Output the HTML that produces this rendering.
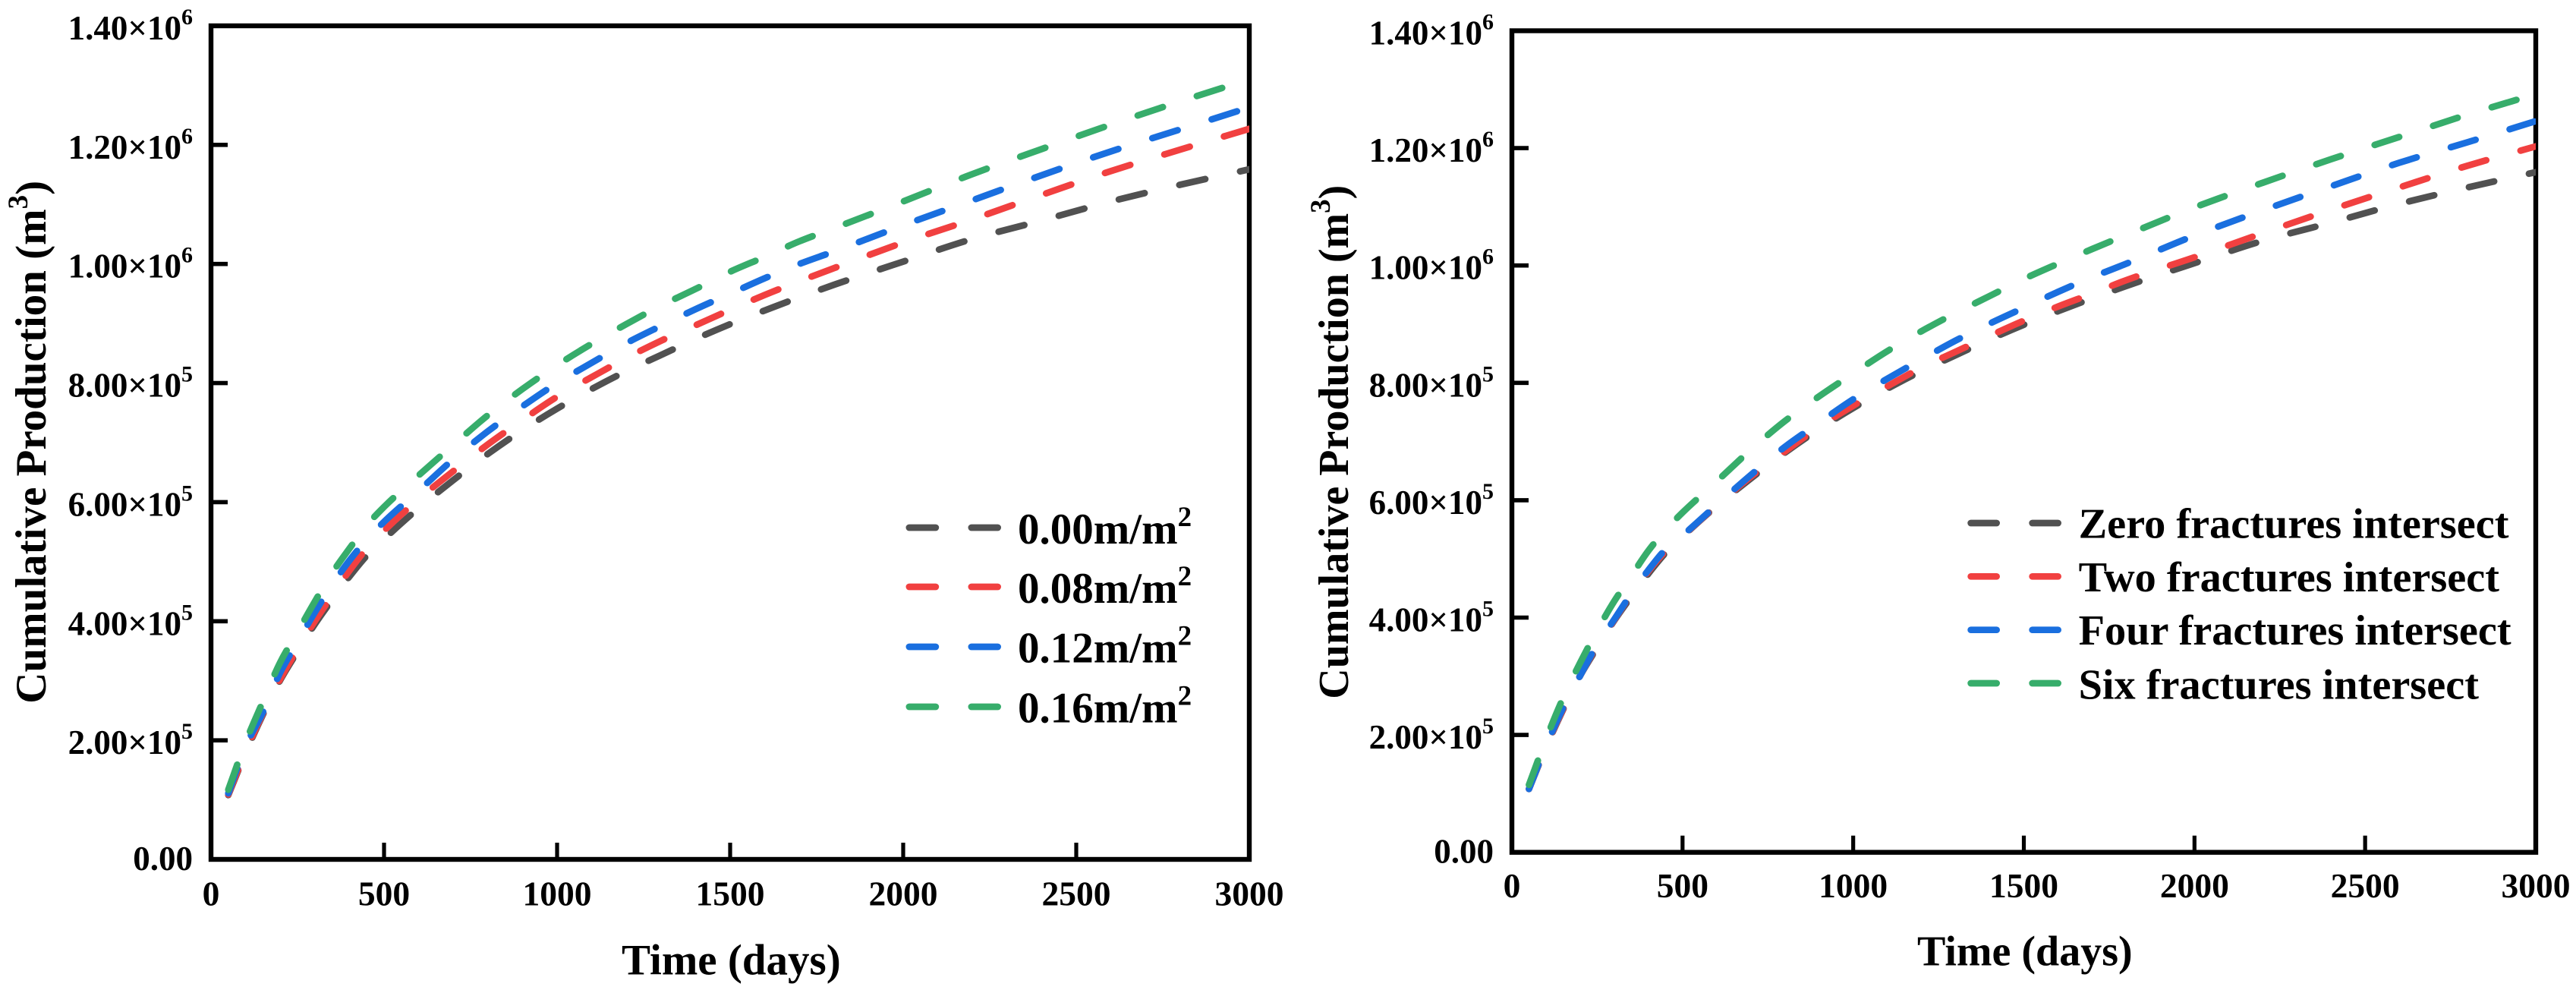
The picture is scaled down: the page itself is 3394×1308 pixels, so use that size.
<!DOCTYPE html>
<html lang="en">
<head>
<meta charset="utf-8">
<title>Cumulative Production Charts</title>
<style>
html,body{margin:0;padding:0;background:#fff;}
svg{display:block;}
text{font-family:"Liberation Serif",serif;font-weight:bold;fill:#000;}
</style>
</head>
<body>
<svg id="figure" xmlns="http://www.w3.org/2000/svg" width="3394" height="1308" viewBox="0 0 3394 1308"></svg>
<script>
// ---- Chart data (cumulative production in thousand m3) ----
const times = [50,100,150,200,250,300,350,400,450,500,600,700,800,900,1000,1100,1200,1300,1400,1500,1600,1700,1800,2000,2200,2400,2600,2800,3000];

const densityZero = [108,179,243,301,349,395,436,475,510,538,590,637,681,721,757,790,820,847,874,899,922,944,965,1004,1042,1073,1105,1133,1159];
const densityLow  = [109,181,245,303,353,400,443,485,522,552,605,652,697,738,777,810,842,871,897,923,948,971,993,1036,1075,1116,1156,1192,1227];
const densityMid  = [111,190,247,314,365,415,461,502,537,567,619,672,719,761,800,834,867,896,924,950,976,1000,1021,1065,1107,1149,1189,1226,1263];
const densityHigh = [117,197,265,331,382,433,481,522,561,592,645,696,746,790,830,866,899,930,958,987,1012,1038,1060,1105,1151,1193,1234,1273,1310];

const fracturesZero = [108,179,243,301,349,395,436,475,510,538,590,637,681,721,757,790,820,847,874,899,922,944,965,1004,1042,1073,1105,1133,1159];
const fracturesTwo  = [108,180,244,301,352,396,440,479,513,539,591,640,683,725,761,794,826,853,880,906,930,952,975,1014,1055,1095,1133,1170,1203];
const fracturesFour = [108,181,246,301,354,397,441,481,516,540,592,643,691,732,772,807,840,872,901,928,955,980,1003,1051,1094,1135,1175,1210,1246];
const fracturesSix  = [115,193,263,323,378,428,471,514,549,579,632,686,735,777,816,854,888,919,948,977,1003,1028,1052,1099,1141,1181,1219,1257,1292];

const xTickValues = [0,500,1000,1500,2000,2500,3000];
const yTickValues = [0,200000,400000,600000,800000,1000000,1200000,1400000];
const yTickMantissas = ['0.00','2.00×10','4.00×10','6.00×10','8.00×10','1.00×10','1.20×10','1.40×10'];
const yTickExponents = ['','5','5','5','5','6','6','6'];

const seriesColors = ['#515151','#F14040','#1A6FDF','#37AD6B'];
const densityLabels = ['0.00m/m','0.08m/m','0.12m/m','0.16m/m'];
const fractureLabels = ['Zero fractures intersect','Two fractures intersect','Four fractures intersect','Six fractures intersect'];

const SVGNS = 'http://www.w3.org/2000/svg';
const figure = document.getElementById('figure');

function make(parent, tag, attrs, txt) {
  const n = document.createElementNS(SVGNS, tag);
  for (const k in attrs) n.setAttribute(k, attrs[k]);
  if (txt !== undefined) n.textContent = txt;
  parent.appendChild(n);
  return n;
}

// Monotone cubic path through screen points
function curvePath(pts) {
  const n = pts.length, d = [], m = [];
  for (let i = 0; i < n - 1; i++) d.push((pts[i+1][1]-pts[i][1])/(pts[i+1][0]-pts[i][0]));
  m[0] = d[0];
  m[n-1] = d[n-2];
  for (let i = 1; i < n - 1; i++) {
    const h0 = pts[i][0]-pts[i-1][0], h1 = pts[i+1][0]-pts[i][0];
    const w1 = 2*h1+h0, w2 = h1+2*h0;
    m[i] = (w1+w2)/(w1/d[i-1]+w2/d[i]);
  }
  let s = 'M' + pts[0][0].toFixed(2) + ' ' + pts[0][1].toFixed(2);
  for (let i = 0; i < n - 1; i++) {
    const h = (pts[i+1][0]-pts[i][0])/3;
    s += 'C' + (pts[i][0]+h).toFixed(2) + ' ' + (pts[i][1]+m[i]*h).toFixed(2) + ' ' +
         (pts[i+1][0]-h).toFixed(2) + ' ' + (pts[i+1][1]-m[i+1]*h).toFixed(2) + ' ' +
         pts[i+1][0].toFixed(2) + ' ' + pts[i+1][1].toFixed(2);
  }
  return s;
}

function drawChart(c) {
  const xScale = t => c.left + t / 3000 * (c.right - c.left);
  const yScale = v => c.bottom - v / 1400000 * (c.bottom - c.top);

  const g = make(figure, 'g', {});
  
  

  const clipId = c.name + '-clip';
  const defs = make(g, 'defs', {});
  const clip = make(defs, 'clipPath', {id: clipId});
  make(clip, 'rect', {x: c.left, y: c.top, width: c.right - c.left, height: c.bottom - c.top});

  // frame
  const frame = make(g, 'rect', {x: c.left, y: c.top, width: c.right - c.left, height: c.bottom - c.top, fill: 'none', stroke: '#000', 'stroke-width': 6.4});
  
  

  // x ticks and labels
  xTickValues.forEach(function (t) {
    const tick = make(g, 'line', {x1: xScale(t), x2: xScale(t), y1: c.bottom, y2: c.bottom - 22, stroke: '#000', 'stroke-width': 5.2});
    
    
    const lab = make(g, 'text', {x: xScale(t), y: c.xLabelY, 'font-size': 45.5, 'text-anchor': 'middle'}, String(t));
    
    
  });

  // y ticks and labels
  yTickValues.forEach(function (v, i) {
    if (i > 0 && i < yTickValues.length - 1) {
      const tick = make(g, 'line', {x1: c.left, x2: c.left + 22, y1: yScale(v), y2: yScale(v), stroke: '#000', 'stroke-width': 5.6});
      
      
    }
    const base = yScale(v) + (i === 0 ? 13.8 : 18);
    const lab = make(g, 'text', {x: c.yLabelX, y: base, 'font-size': 45, 'text-anchor': 'end'});
    
    
    make(lab, 'tspan', {}, yTickMantissas[i]);
    if (yTickExponents[i]) make(lab, 'tspan', {'font-size': 30, dy: -20}, yTickExponents[i]);
  });

  // axis titles
  const xt = make(g, 'text', {x: c.xTitleX, y: c.xTitleY, 'font-size': c.titleSize}, 'Time (days)');
  
  

  const yt = make(g, 'text', {transform: 'translate(' + c.yTitleX + ',' + c.yTitleY + ') rotate(-90)', 'font-size': c.titleSize});
  
  
  make(yt, 'tspan', {}, 'Cumulative Production (m');
  make(yt, 'tspan', {'font-size': 37, dy: -24}, '3');
  make(yt, 'tspan', {dy: 24}, ')');

  // series
  c.series.forEach(function (vals, i) {
    const pts = times.map((t, k) => [xScale(t), yScale(vals[k] * 1000)]);
    const line = make(g, 'path', {
      d: curvePath(pts), fill: 'none', stroke: seriesColors[i], 'stroke-width': 8.7,
      'stroke-linecap': 'round', 'stroke-dasharray': c.dash, 'clip-path': 'url(#' + clipId + ')'
    });
    
    
  });

  // legend
  const legend = make(g, 'g', {});
  
  
  c.labels.forEach(function (label, i) {
    const sw = make(legend, 'line', {
      x1: c.legendX0, x2: c.legendX1, y1: c.legendLineY[i], y2: c.legendLineY[i],
      stroke: seriesColors[i], 'stroke-width': 8.7, 'stroke-linecap': 'round', 'stroke-dasharray': c.dash
    });
    
    
    const tx = make(legend, 'text', {x: c.legendTextX, y: c.legendTextY[i], 'font-size': c.legendSize});
    
    
    make(tx, 'tspan', {}, label);
    if (c.legendSup) make(tx, 'tspan', {'font-size': 37, dy: -23}, c.legendSup);
  });
}

drawChart({
  name: 'density-chart', left: 278, right: 1646, top: 34, bottom: 1132,
  xLabelY: 1192.7, yLabelX: 254, xTitleX: 819, xTitleY: 1283.7, yTitleX: 60, yTitleY: 926.7, titleSize: 57,
  dash: '35 47', series: [densityZero, densityLow, densityMid, densityHigh], labels: densityLabels,
  legendX0: 1197.85, legendX1: 1314.65, legendLineY: [695, 773, 852, 931],
  legendTextX: 1341, legendTextY: [716, 794, 872.6, 951.6], legendSize: 57, legendSup: '2'
});

drawChart({
  name: 'fractures-chart', left: 1992, right: 3341, top: 40.5, bottom: 1122.7,
  xLabelY: 1182, yLabelX: 1968, xTitleX: 2526, xTitleY: 1271.7, yTitleX: 1776, yTitleY: 920.7, titleSize: 56,
  dash: '34 47', series: [fracturesZero, fracturesTwo, fracturesFour, fracturesSix], labels: fractureLabels,
  legendX0: 2596.65, legendX1: 2711.65, legendLineY: [689, 759.3, 829.7, 900],
  legendTextX: 2738.6, legendTextY: [708.7, 779, 849, 920.3], legendSize: 56.3, legendSup: ''
});
</script>
</body>
</html>
